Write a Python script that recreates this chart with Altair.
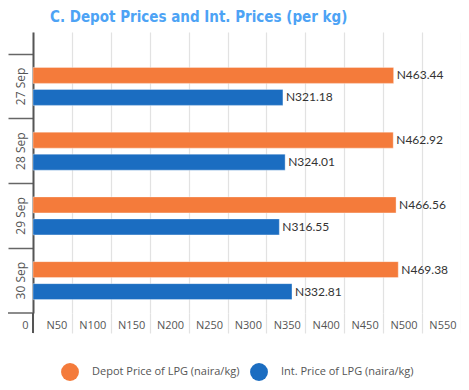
import altair as alt
import pandas as pd

dates = ["27 Sep", "28 Sep", "29 Sep", "30 Sep"]
depot = [463.44, 462.92, 466.56, 469.38]
intl = [321.18, 324.01, 316.55, 332.81]
series = ["Depot Price of LPG (naira/kg)", "Int. Price of LPG (naira/kg)"]
colors = ["#F47B3B", "#1B6DC1"]
ticks = [0, 50, 100, 150, 200, 250, 300, 350, 400, 450, 500, 550]

rows = []
for d, a, b in zip(dates, depot, intl):
    rows.append({"date": d, "series": series[0], "value": a, "label": f"N{a:.2f}"})
    rows.append({"date": d, "series": series[1], "value": b, "label": f"N{b:.2f}"})
df = pd.DataFrame(rows)

W, H = 428, 281

y_axis = alt.Axis(bandPosition=0, tickSize=25, tickColor="#666", tickWidth=1.5,
                  domainColor="#555", domainWidth=2,
                  labelAngle=270, labelAlign="center", labelBaseline="middle",
                  labelPadding=-12, labelFont="Open Sans", labelFontSize=12,
                  labelColor="#555", grid=False)
y_scale = alt.Scale(paddingInner=0, paddingOuter=0.17, align=1)
x_axis = alt.Axis(values=ticks, grid=True, gridColor="#e2e2e2", gridWidth=1.2,
                  tickSize=20, tickColor="#e2e2e2", tickWidth=1.2, domain=False,
                  labelExpr="datum.value == 0 ? '0' : 'N' + datum.value",
                  labelAlign="right", labelBaseline="middle", labelPadding=-8,
                  labelOffset=-5, labelFont="Open Sans", labelFontSize=11,
                  labelColor="#555", labelOverlap=False, labelFlush=False,
                  labelSeparation=0)
x_scale = alt.Scale(domain=[0, 550], nice=False, zero=True)

y_enc = alt.Y("date:N", sort=dates, title=None, scale=y_scale, axis=y_axis)
x_enc = alt.X("value:Q", title=None, scale=x_scale, axis=x_axis)
yoff = alt.YOffset("series:N", sort=series,
                   scale=alt.Scale(paddingInner=0.273, paddingOuter=0.608))
color = alt.Color("series:N", sort=series,
                  scale=alt.Scale(domain=series, range=colors),
                  legend=alt.Legend(title=None, orient="none", direction="horizontal",
                                    legendX=28, legendY=331, symbolType="circle",
                                    symbolSize=320, symbolStrokeWidth=0,
                                    labelFont="Open Sans", labelFontSize=11,
                                    labelColor="#555", labelOffset=13, columnPadding=10))

base = alt.Chart(df)
bars = base.mark_bar(stroke="white", strokeOpacity=0.35, strokeWidth=1).encode(
    y=y_enc, x=x_enc, yOffset=yoff, color=color)
text = base.mark_text(align="left", baseline="middle", dx=3, font="Lato",
                      fontSize=12, color="#333").encode(
    y=y_enc, x=x_enc, yOffset=yoff, text="label:N")

bottom_df = pd.DataFrame({"date": [dates[-1]]})
bottom_tick = alt.Chart(bottom_df).mark_rule(color="#666", strokeWidth=1.5).encode(
    y=alt.Y("date:N", sort=dates, bandPosition=1, title=None, scale=y_scale, axis=y_axis),
    x=alt.value(-25), x2=alt.value(0))
axis_ext = alt.Chart(bottom_df).mark_rule(color="#555", strokeWidth=2).encode(
    x=alt.value(0), y=alt.value(H), y2=alt.value(H + 20))

chart = alt.layer(bars, text, bottom_tick, axis_ext).properties(
    width=W, height=H,
    autosize=alt.AutoSizeParams(type="none"),
    padding={"left": 25, "top": 24, "right": 0, "bottom": 69},
    title=alt.TitleParams("C.  Depot Prices and Int. Prices (per kg)", anchor="start",
                          frame="group",
                          font="DejaVu Sans Condensed, Roboto, sans-serif", fontSize=15,
                          fontWeight="bold", color="#4DA3F5", offset=7, dx=17),
).configure_view(stroke=None).configure_axisX(labelOverlap=False)

chart.save("out.html", embed_options={"renderer": "svg", "actions": False})
